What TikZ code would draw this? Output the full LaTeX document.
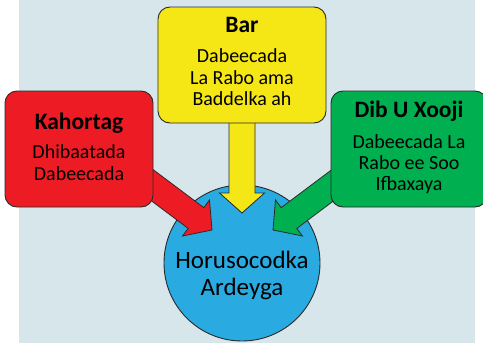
\documentclass[tikz,border=0pt]{standalone}
\usepackage{fontspec}
\setmainfont{Carlito}
\usetikzlibrary{calc}
\pgfdeclarelayer{bgl}
\pgfdeclarelayer{back}
\pgfdeclarelayer{mid}
\pgfsetlayers{bgl,back,mid,main}
\definecolor{bgc}{HTML}{D6E6EB}
\definecolor{redc}{HTML}{ED1C24}
\definecolor{yelc}{HTML}{F5E616}
\definecolor{grnc}{HTML}{00AF4F}
\definecolor{bluc}{HTML}{29ABE2}
\definecolor{edgec}{HTML}{2A2A2A}
\tikzset{
  box/.style={draw=edgec, line width=0.9pt, rounded corners=12pt, inner sep=0pt},
  ttl/.style={anchor=base, inner sep=0pt, font=\fontsize{23.5}{27}\selectfont\bfseries},
  bod/.style={anchor=base, inner sep=0pt, font=\fontsize{20}{22}\selectfont},
  big/.style={anchor=base, inner sep=0pt, font=\fontsize{25}{27}\selectfont},
  arrowline/.style={draw=edgec, line width=0.8pt, line join=miter}
}
\newcommand\blkarrow[3]{%
  \path (#2) coordinate (tmpT) ($(#2)!20pt!(#1)$) coordinate (tmpH);
  \draw[arrowline, fill=#3]
    ($(#1)!13pt!90:(tmpT)$) -- ($(tmpH)!13pt!90:(tmpT)$) -- ($(tmpH)!22.5pt!90:(tmpT)$)
    -- (tmpT) -- ($(tmpH)!22.5pt!-90:(tmpT)$) -- ($(tmpH)!13pt!-90:(tmpT)$)
    -- ($(#1)!13pt!-90:(tmpT)$) -- cycle;}
\begin{document}
\begin{tikzpicture}[x=1pt, y=-1pt]
\useasboundingbox (0,0) rectangle (483,343);
\clip (0,0) rectangle (483,343);
\begin{pgfonlayer}{bgl}
\fill[white] (0,0) rectangle (483,343);
\fill[bgc] (19,0) rectangle (475,343);
\end{pgfonlayer}
% boxes
\node[box, fill=redc, minimum width=148pt, minimum height=116pt] (kah) at (79,149) {};
\node[box, fill=yelc, minimum width=168pt, minimum height=116pt] (bar) at (242,65) {};
\node[box, fill=grnc, minimum width=156pt, minimum height=116pt] (dib) at (409,149) {};
% circle
\begin{pgfonlayer}{back}
\node[circle, draw=edgec, line width=0.9pt, fill=bluc, minimum size=156pt, inner sep=0pt] (hor) at (242,263) {};
\end{pgfonlayer}
% arrows
\coordinate (rtail) at (96,143);
\coordinate (rtip) at (212,230);
\coordinate (ytail) at (242,100);
\coordinate (ytip) at (242,213);
\coordinate (gtail) at (389,143);
\coordinate (gtip) at (273,230);
\begin{pgfonlayer}{mid}
\blkarrow{rtail}{rtip}{redc}
\blkarrow{ytail}{ytip}{yelc}
\blkarrow{gtail}{gtip}{grnc}
\end{pgfonlayer}
% texts
\node[ttl] (k1) at (79,129) {Kahortag};
\node[bod] (k2) at (79,158) {Dhibaatada};
\node[bod] (k3) at (79,180) {Dabeecada};
\node[ttl] (b1) at (242,32) {Bar};
\node[bod] (b2) at (242,62) {Dabeecada};
\node[bod] (b3) at (242,84) {La Rabo ama};
\node[bod] (b4) at (242,105) {Baddelka ah};
\node[ttl] (d1) at (409,117) {Dib U Xooji};
\node[bod] (d2) at (409,148) {Dabeecada La};
\node[bod] (d3) at (409,169) {Rabo ee Soo};
\node[bod] (d4) at (409,190) {I{}fbaxaya};
\node[big] (h1) at (242,268) {Horusocodka};
\node[big] (h2) at (242,295) {Ardeyga};
\end{tikzpicture}
\end{document}
